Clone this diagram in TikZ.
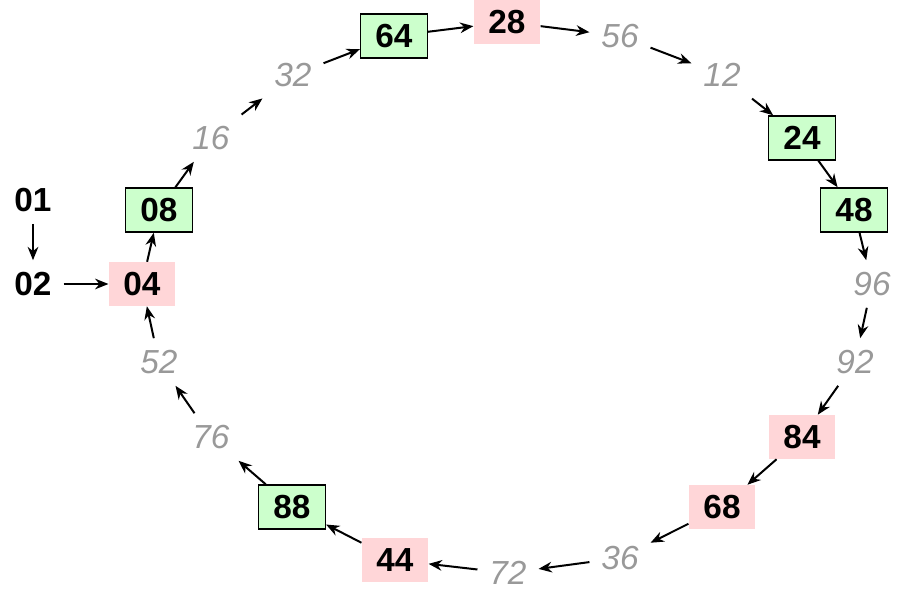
\documentclass[tikz,border=0pt]{standalone}
\usepackage{fontspec}
\setmainfont{Liberation Sans}
\usetikzlibrary{arrows.meta}
\definecolor{hitgreen}{RGB}{204,255,204}
\definecolor{misspink}{RGB}{255,214,216}
\definecolor{skipgray}{RGB}{153,153,153}
\tikzset{
  bignum/.style={font=\fontsize{25}{28}\selectfont\bfseries},
  start/.style={bignum, inner sep=2pt, outer sep=7pt},
  hit/.style={bignum, draw=black, line width=1.1pt, fill=hitgreen, minimum width=50pt, minimum height=33pt},
  miss/.style={bignum, fill=misspink, minimum width=50pt, minimum height=33pt},
  skip/.style={text=skipgray, font=\fontsize{25}{28}\selectfont\itshape, inner sep=2pt, outer sep=7pt},
  link/.style={-{Stealth[length=10pt,width=8pt]}, line width=1.5pt}
}
\begin{document}
\begin{tikzpicture}[x=0.75pt, y=-0.75pt]
        \useasboundingbox (0,0) rectangle (907,598);
        \node[start] (n01) at (33,200) {01};
        \node[start] (n02) at (33,284) {02};
        \node[miss] (n04) at (142,284) {04};
        \node[hit] (n08) at (159,210) {08};
        \node[skip] (n16) at (211,138) {16};
        \node[skip] (n32) at (293,75) {32};
        \node[hit] (n64) at (394,36) {64};
        \node[miss] (n28) at (507,22) {28};
        \node[skip] (n56) at (620,36) {56};
        \node[skip] (n12) at (722,75) {12};
        \node[hit] (n24) at (802,138) {24};
        \node[hit] (n48) at (854,210) {48};
        \node[skip] (n96) at (872,284) {96};
        \node[skip] (n92) at (855,362) {92};
        \node[miss] (n84) at (802,437) {84};
        \node[miss] (n68) at (722,507) {68};
        \node[skip] (n36) at (620,558) {36};
        \node[skip] (n72) at (508,573) {72};
        \node[miss] (n44) at (395,560) {44};
        \node[hit] (n88) at (292,507) {88};
        \node[skip] (n76) at (211,437) {76};
        \node[skip] (n52) at (159,362) {52};
        %
        \draw[link] (n01) -- (n02);
        \draw[link] (n02) -- (n04);
        \draw[link] (n04) -- (n08);
        \draw[link] (n08) -- (n16);
        \draw[link] (n16) -- (n32);
        \draw[link] (n32) -- (n64);
        \draw[link] (n64) -- (n28);
        \draw[link] (n28) -- (n56);
        \draw[link] (n56) -- (n12);
        \draw[link] (n12) -- (n24);
        \draw[link] (n24) -- (n48);
        \draw[link] (n48) -- (n96);
        \draw[link] (n96) -- (n92);
        \draw[link] (n92) -- (n84);
        \draw[link] (n84) -- (n68);
        \draw[link] (n68) -- (n36);
        \draw[link] (n36) -- (n72);
        \draw[link] (n72) -- (n44);
        \draw[link] (n44) -- (n88);
        \draw[link] (n88) -- (n76);
        \draw[link] (n76) -- (n52);
        \draw[link] (n52) -- (n04);
    \end{tikzpicture}
\end{document}
